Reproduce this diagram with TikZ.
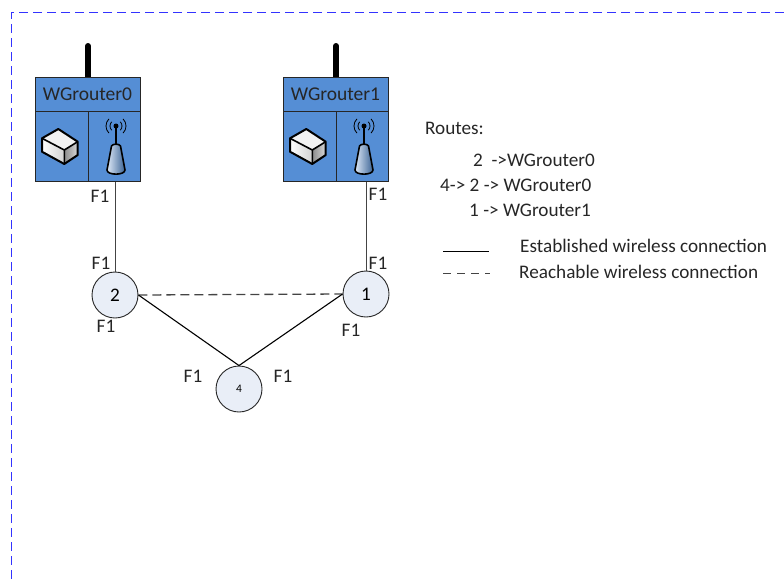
\documentclass[tikz,border=0pt]{standalone}
\usepackage{fontspec}
\setmainfont{Carlito}
\usepackage{tikz}
\usetikzlibrary{positioning}
\definecolor{routerblue}{HTML}{558ED5}
\definecolor{nodefill}{HTML}{E9EEF7}
\definecolor{frameblue}{HTML}{3333FF}
\definecolor{linegray}{HTML}{444444}
\tikzset{
  routerbox/.style={draw=black!85, fill=routerblue, line width=1pt, minimum width=105pt, minimum height=104pt, inner sep=0pt},
  hopnode/.style={circle, draw=black!85, fill=nodefill, line width=0.9pt, minimum size=46pt, inner sep=0pt, font=\fontsize{19.2}{19.2}\selectfont},
  lbl/.style={font=\fontsize{19.2}{19.2}\selectfont, inner sep=0pt, text=black!85},
  link/.style={draw=linegray, line width=0.9pt},
  reach/.style={link, line width=1.3pt, dash pattern=on 9pt off 5pt},
}
\begin{document}
\begin{tikzpicture}[x=1pt,y=-1pt]
  \useasboundingbox (0,0) rectangle (784,579);

  % Dashed frame around the area
  \coordinate (frameA) at (784,12.5);
  \coordinate (frameB) at (11.5,12.5);
  \coordinate (frameC) at (11.5,579);
  \draw[frameblue, line width=1.5pt, dash pattern=on 9pt off 5pt] (frameA) -- (frameB) -- (frameC);

  % Draw the two routers
  \foreach \x/\id in {35/0,283/1}{
    \begin{scope}[shift={(\x,77)}]
      % Antenna
      \draw[black, line width=6pt, line cap=round] (53,-31) -- (53,0);
      \node[routerbox, anchor=north west] (router\id) at (0,0) {};
      \node[lbl, font=\fontsize{19.5}{19.5}\selectfont] at (52.5,17) {WGrouter\id};
      \draw[black!85] (0,34) -- (105,34);
      \draw[black!85] (53,34) -- (53,104);
      % Cube icon
      \fill[white!95!black] (23.3,52) -- (7,61.3) -- (29.3,73) -- (42.7,64.7) -- cycle;
      \shade[left color=white, right color=black!18] (7,61.3) -- (7,74.7) -- (29.3,87) -- (29.3,73) -- cycle;
      \shade[left color=black!45, right color=black!15] (29.3,73) -- (29.3,87) -- (42.7,78) -- (42.7,64.7) -- cycle;
      \draw[black, line width=2pt, line join=round] (23.3,52) -- (7,61.3) -- (7,74.7) -- (29.3,87) -- (42.7,78) -- (42.7,64.7) -- cycle;
      \draw[black, line width=1.6pt, line join=round] (7,61.3) -- (29.3,73) -- (42.7,64.7) (29.3,73) -- (29.3,87);
      % Tower icon
      \draw[black, line width=1.2pt] (81,68) -- (81,49);
      \fill[black] (81,49) circle (2.5);
      \foreach \r in {6,10}{
        \draw[black, line width=0.8pt] (81,49) ++(-45:\r) arc (-45:45:\r);
        \draw[black, line width=0.8pt] (81,49) ++(135:\r) arc (135:225:\r);
      }
      \draw[black, line width=1.6pt, left color=white!80!routerblue, right color=routerblue!70!black, line join=round]
        (76.5,69) .. controls (78,66.5) and (84,66.5) .. (85.5,69) -- (90,93) .. controls (90,98.5) and (72,98.5) .. (72,93) -- cycle;
    \end{scope}
  }

  % Hop nodes
  \node[hopnode] (two) at (115,295) {2};
  \node[hopnode] (one) at (366,294) {1};
  \node[hopnode, font=\fontsize{11.5}{11.5}\selectfont] (four) at (239,389) {4};

  % Links
  \draw[link] (router0.south -| two) -- (two.north);
  \draw[link] (router1.south -| one) -- (one.north);
  \draw[reach] (two.east) -- (one.west);
  \draw[link, draw=black, line width=1.1pt] (two.east) -- (four.north);
  \draw[link, draw=black, line width=1.1pt] (one.west) -- (four.north);

  % Interface labels
  \node[lbl] (f1a) at (100,196) {F1};
  \node[lbl] (f1b) at (101,263) {F1};
  \node[lbl] (f1c) at (378,194) {F1};
  \node[lbl] (f1d) at (378,263) {F1};
  \node[lbl] (f1e) at (106,326) {F1};
  \node[lbl] (f1f) at (351,330) {F1};
  \node[lbl] (f1g) at (193,376) {F1};
  \node[lbl] (f1h) at (283,376) {F1};

  % Routes
  \node[lbl, anchor=west] (routes) at (425,128) {Routes:};
  \node[lbl, anchor=west] (routeA) at (473,160) {2\ \ ->WGrouter0};
  \node[lbl, anchor=west] (routeB) at (440,185) {4-> 2 -> WGrouter0};
  \node[lbl, anchor=west] (routeC) at (469,210) {1 -> WGrouter1};

  % Legend
  \coordinate (solidA) at (443,251);
  \coordinate (solidB) at (489,251);
  \coordinate (dashA) at (443,273);
  \coordinate (dashB) at (490,273);
  \draw[link, draw=black] (solidA) -- (solidB);
  \draw[reach, line width=0.9pt, dash pattern=on 8pt off 6pt] (dashA) -- (dashB);
  \node[lbl, anchor=west] (established) at (520,246) {Established wireless connection};
  \node[lbl, anchor=west] (reachable) at (519,272) {Reachable wireless connection};
\end{tikzpicture}
\end{document}
